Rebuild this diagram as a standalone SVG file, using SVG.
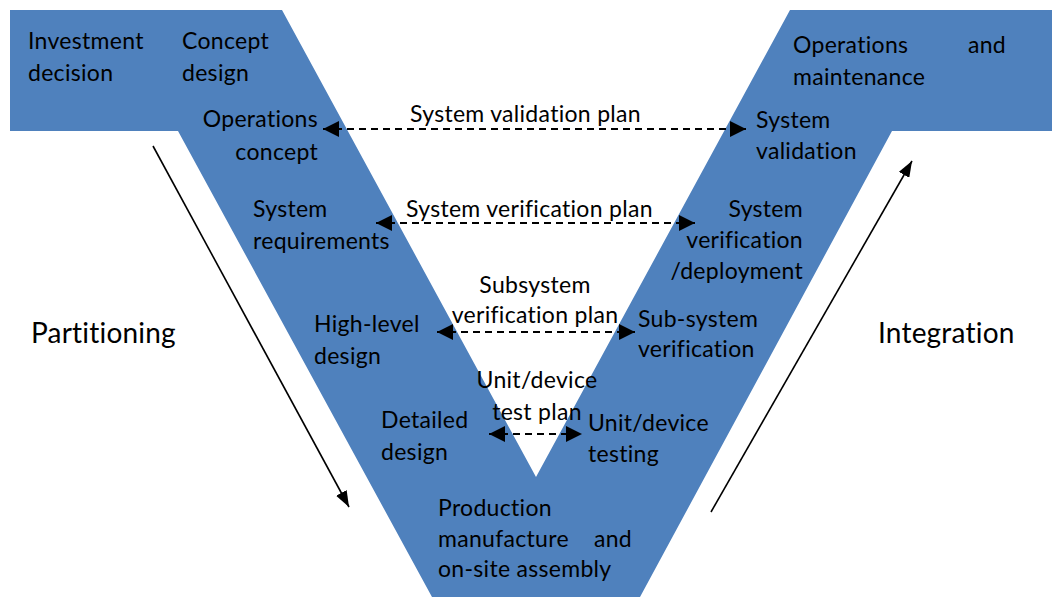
<svg xmlns="http://www.w3.org/2000/svg" width="1052" height="597" viewBox="0 0 1052 597">
  <style>
    .band { fill: #4F81BD; }
    .t { font-family: "Lato", "Open Sans", sans-serif; font-size: 23px; letter-spacing: 0.3px; fill: #000; }
    .big { font-size: 28px; letter-spacing: 0.2px; }
    .mid { text-anchor: middle; }
    .end { text-anchor: end; }
    .plan { stroke: #000; stroke-width: 2; stroke-dasharray: 7 5; fill: none; }
    .flow { stroke: #000; stroke-width: 1.6; fill: none; }
  </style>
  <defs>
    <marker id="head" markerUnits="userSpaceOnUse" viewBox="0 0 16 16" refX="16" refY="8" markerWidth="16" markerHeight="16" orient="auto-start-reverse">
      <path d="M0,0 L16,8 L0,16 Z" fill="#000"/>
    </marker>
    <marker id="thin" markerUnits="userSpaceOnUse" viewBox="0 0 16 12" refX="16" refY="6" markerWidth="16" markerHeight="12" orient="auto">
      <path d="M0,0 L16,6 L0,12 Z" fill="#000"/>
    </marker>
  </defs>

  <!-- V-shaped life-cycle band -->
  <g id="v-band">
    <polygon class="band" points="10,10 282,10 536,477 790,10 1052,10 1052,131 892,131 640,597 432,597 178,131 10,131"/>
  </g>

  <!-- phase labels -->
  <g id="investment-decision">
    <text class="t" x="28" y="49">Investment</text>
    <text class="t" x="28" y="81">decision</text>
  </g>
  <g id="concept-design">
    <text class="t" x="182" y="49">Concept</text>
    <text class="t" x="182" y="81">design</text>
  </g>
  <g id="operations-concept">
    <text class="t end" x="318" y="127">Operations</text>
    <text class="t end" x="318" y="160">concept</text>
  </g>
  <g id="system-requirements">
    <text class="t" x="253" y="217">System</text>
    <text class="t" x="253" y="249">requirements</text>
  </g>
  <g id="high-level-design">
    <text class="t" x="314" y="332">High-level</text>
    <text class="t" x="314" y="364">design</text>
  </g>
  <g id="detailed-design">
    <text class="t" x="381" y="428">Detailed</text>
    <text class="t" x="381" y="460">design</text>
  </g>
  <g id="production">
    <text class="t" x="438" y="516">Production</text>
    <text class="t" x="438" y="547">manufacture</text>
    <text class="t end" x="632" y="547">and</text>
    <text class="t" x="438" y="577">on-site assembly</text>
  </g>
  <g id="unit-device-testing">
    <text class="t" x="588" y="431">Unit/device</text>
    <text class="t" x="588" y="462">testing</text>
  </g>
  <g id="sub-system-verification">
    <text class="t" x="638" y="327">Sub-system</text>
    <text class="t" x="638" y="357">verification</text>
  </g>
  <g id="system-verification">
    <text class="t end" x="803" y="217">System</text>
    <text class="t end" x="803" y="248">verification</text>
    <text class="t end" x="803" y="279">/deployment</text>
  </g>
  <g id="system-validation">
    <text class="t" x="756" y="128">System</text>
    <text class="t" x="756" y="159">validation</text>
  </g>
  <g id="operations-maintenance">
    <text class="t" x="793" y="53">Operations</text>
    <text class="t end" x="1006" y="53">and</text>
    <text class="t" x="793" y="85">maintenance</text>
  </g>

  <!-- side captions -->
  <g id="partitioning">
    <text class="t big" x="31" y="343">Partitioning</text>
  </g>
  <g id="integration">
    <text class="t big" x="878" y="343">Integration</text>
  </g>

  <!-- plan labels -->
  <g id="plan-labels">
    <text class="t" x="410" y="122">System validation plan</text>
    <text class="t" x="406" y="217">System verification plan</text>
    <text class="t mid" x="535" y="293">Subsystem</text>
    <text class="t mid" x="535" y="323">verification plan</text>
    <text class="t mid" x="537" y="388">Unit/device</text>
    <text class="t mid" x="537" y="420">test plan</text>
  </g>

  <!-- connectors -->
  <g id="connectors">
    <line class="plan" x1="323" y1="129" x2="746" y2="129" marker-start="url(#head)" marker-end="url(#head)"/>
    <line class="plan" x1="376" y1="223" x2="695" y2="223" marker-start="url(#head)" marker-end="url(#head)"/>
    <line class="plan" x1="437" y1="332" x2="635" y2="332" marker-start="url(#head)" marker-end="url(#head)"/>
    <line class="plan" x1="489" y1="434" x2="582" y2="434" marker-start="url(#head)" marker-end="url(#head)"/>
    <line class="flow" x1="153" y1="146" x2="349" y2="507" marker-end="url(#thin)"/>
    <line class="flow" x1="711" y1="512" x2="912" y2="161" marker-end="url(#thin)"/>
  </g>
</svg>
